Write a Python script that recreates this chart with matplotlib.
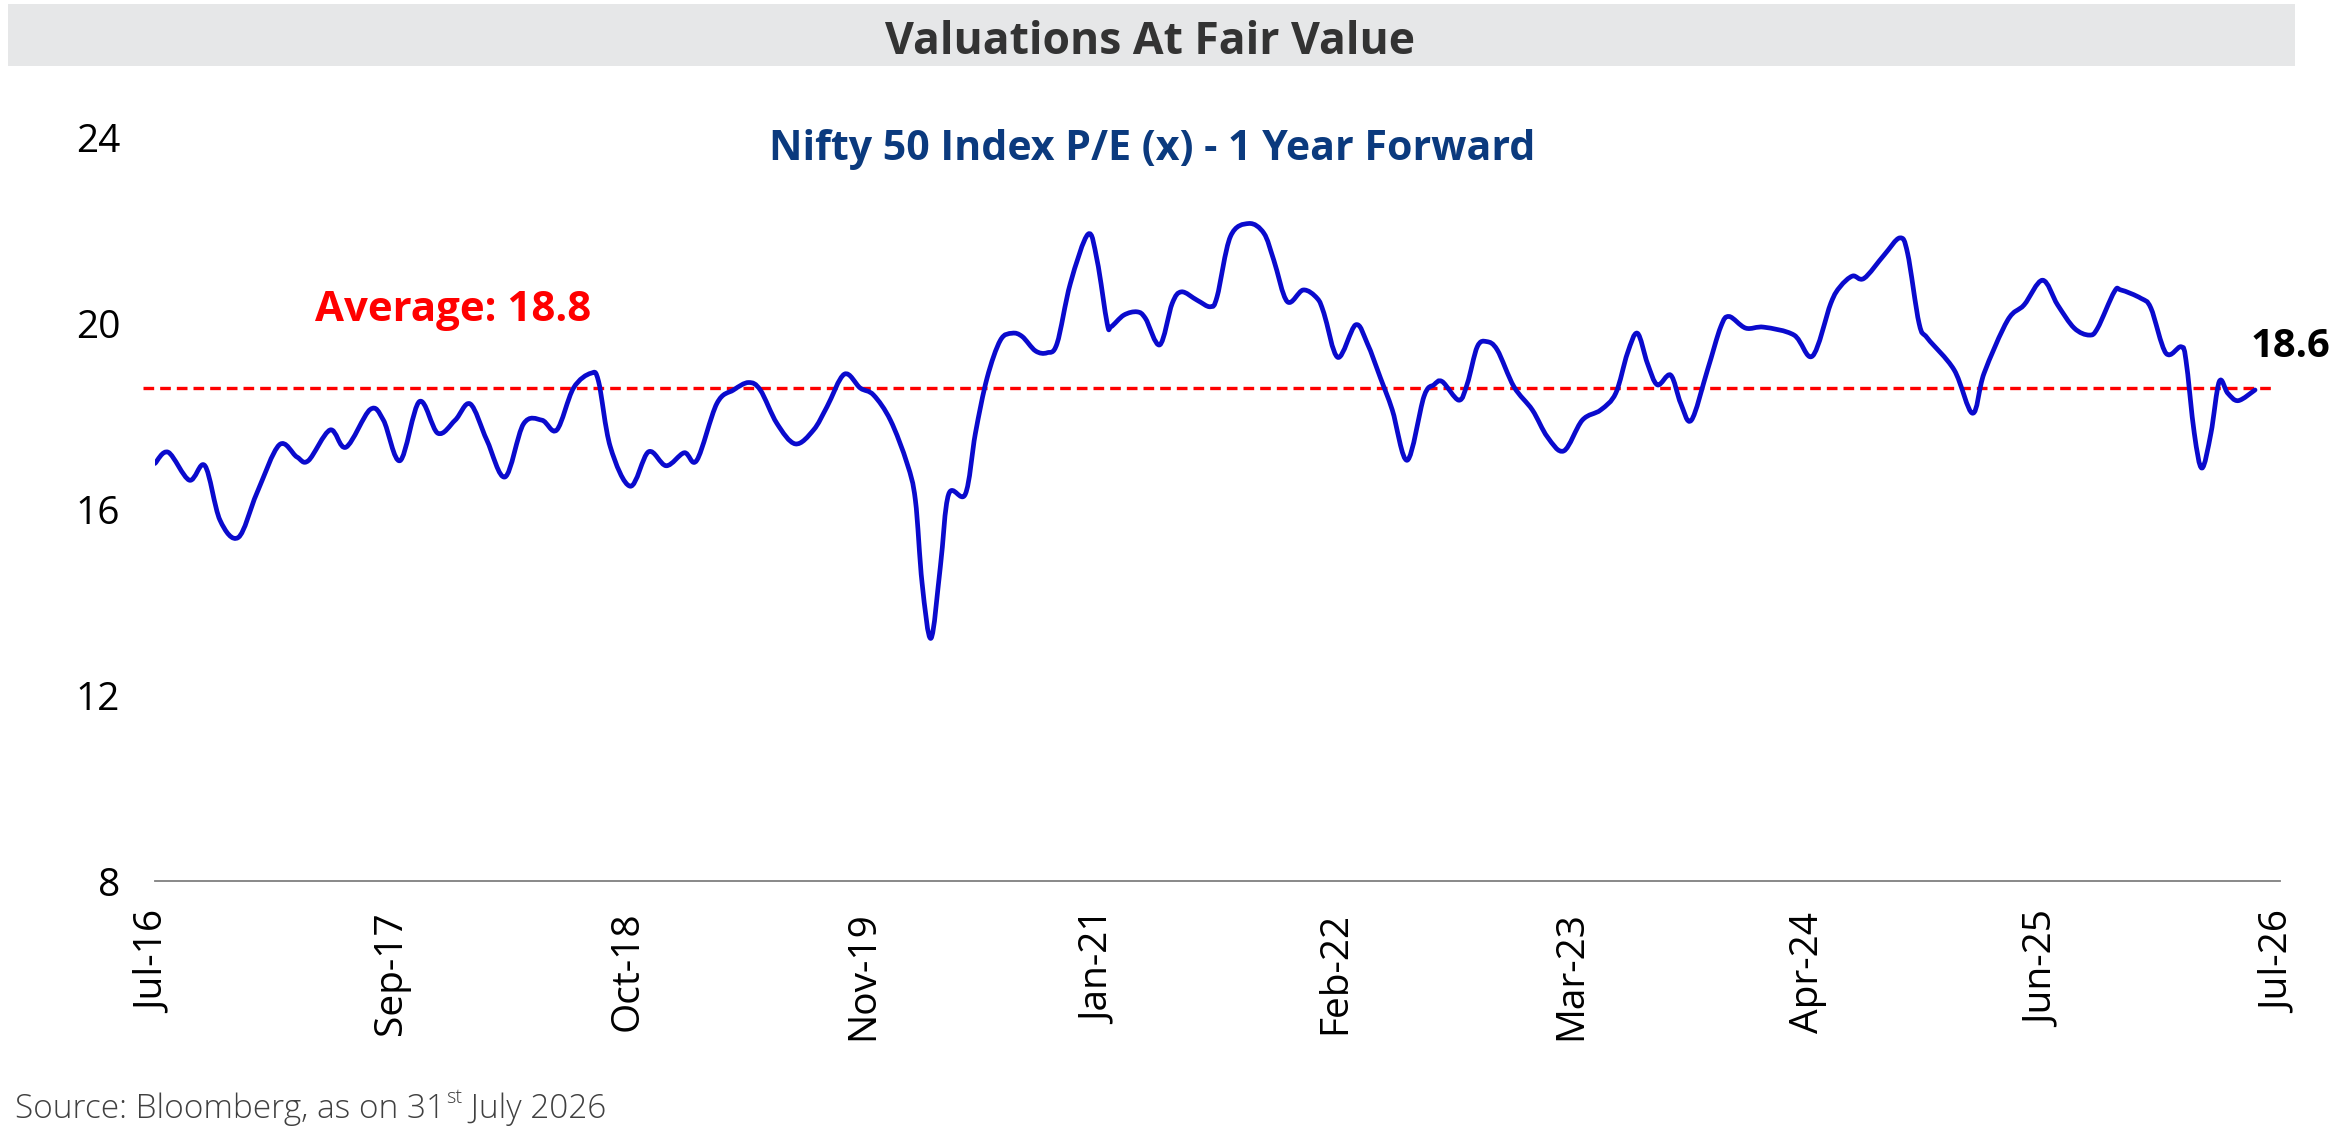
import numpy as np
import matplotlib
matplotlib.use("Agg")
import matplotlib.pyplot as plt
from matplotlib.path import Path
from matplotlib.patches import PathPatch, Rectangle

# ---------------- data ----------------
# x: months since Jul-2016, y: Nifty 50 1-yr forward P/E
months = [0.00, 0.75, 1.94, 2.82, 3.67, 4.71, 5.75, 7.02, 8.01, 8.66, 9.89, 10.79,
          12.15, 12.90, 13.84, 14.93, 15.97, 16.95, 17.80, 18.74, 19.77, 20.81, 21.85,
          22.69, 23.63, 24.62, 25.05, 25.71, 26.84, 27.87, 28.87, 29.89, 30.60, 31.73,
          32.67, 33.52, 34.18, 35.12, 36.16, 37.19, 37.95, 38.93, 39.83, 40.58, 41.53,
          42.47, 42.94, 43.32, 43.82, 44.35, 44.82, 45.76, 46.33, 46.99, 47.74, 48.40,
          48.97, 49.72, 50.38, 50.94, 51.69, 52.69, 53.20, 53.77, 53.99, 54.71, 55.46,
          55.93, 56.74, 57.44, 57.97, 58.85, 59.60, 59.98, 60.73, 61.77, 62.62, 63.18,
          63.94, 64.84, 65.63, 66.01, 66.80, 67.80, 68.46, 69.21, 69.87, 70.72, 71.66,
          72.22, 72.69, 73.63, 74.11, 74.67, 75.20, 75.80, 76.74, 77.78, 78.63, 79.56,
          80.60, 81.64, 82.49, 83.15, 83.71, 84.28, 84.84, 85.59, 86.16, 86.76, 87.67,
          88.42, 88.89, 89.83, 90.86, 92.56, 93.60, 94.63, 95.16, 95.86, 96.51, 97.64,
          98.53, 98.97, 99.62, 100.10, 101.60, 102.64, 103.29, 104.62, 105.55, 106.59,
          107.44, 108.38, 109.23, 109.70, 110.64, 111.02, 112.15, 112.71, 113.56, 114.41,
          114.69, 115.16, 115.59, 116.10, 116.57, 117.05, 117.64, 118.59]
pe = [16.98, 17.22, 16.62, 16.93, 15.76, 15.39, 16.34, 17.38, 17.12, 17.04, 17.70, 17.33,
      18.14, 17.91, 17.04, 18.31, 17.63, 17.91, 18.26, 17.48, 16.69, 17.83, 17.91,
      17.70, 18.60, 18.92, 18.74, 17.34, 16.49, 17.23, 16.93, 17.21, 17.05, 18.27,
      18.56, 18.72, 18.56, 17.84, 17.40, 17.70, 18.20, 18.90, 18.60, 18.45, 17.91,
      16.98, 16.19, 14.40, 13.22, 14.76, 16.32, 16.32, 17.63, 18.82, 19.63, 19.78,
      19.71, 19.40, 19.36, 19.56, 20.85, 21.91, 21.35, 19.99, 19.92, 20.17, 20.24,
      20.10, 19.53, 20.42, 20.67, 20.49, 20.35, 20.57, 21.86, 22.14, 21.93, 21.35,
      20.46, 20.71, 20.53, 20.21, 19.26, 19.96, 19.56, 18.81, 18.13, 17.05, 18.42,
      18.67, 18.74, 18.34, 18.70, 19.49, 19.60, 19.42, 18.63, 18.13, 17.55, 17.25,
      17.91, 18.13, 18.49, 19.35, 19.78, 19.13, 18.67, 18.88, 18.27, 17.91, 18.99,
      19.92, 20.14, 19.89, 19.91, 19.74, 19.29, 20.42, 20.78, 21.01, 20.96, 21.46,
      21.83, 21.50, 19.99, 19.67, 18.99, 18.06, 18.92, 20.06, 20.39, 20.92,
      20.39, 19.89, 19.74, 19.89, 20.67, 20.71, 20.53, 20.32, 19.35, 19.49,
      19.20, 17.63, 16.88, 17.63, 18.74, 18.49, 18.33, 18.56]

tick_labels = ["Jul-16", "Sep-17", "Oct-18", "Nov-19", "Jan-21", "Feb-22",
               "Mar-23", "Apr-24", "Jun-25", "Jul-26"]
y_ticks = [8, 12, 16, 20, 24]
avg_line = 18.6          # drawn level of the dashed average line
avg_span = [-0.7, 119.5]  # months covered by the dashed line
avg_label = "Average: 18.8"
last_label = "18.6"

title = "Valuations At Fair Value"
subtitle = "Nifty 50 Index P/E (x) - 1 Year Forward"

# ---------------- figure ----------------
W, H = 2345, 1142
FONT = "Open Sans"
plt.rcParams["font.family"] = [FONT, "DejaVu Sans"]
fig = plt.figure(figsize=(W / 100, H / 100), dpi=100)
fig.patch.set_facecolor("white")
renderer = fig.canvas.get_renderer()


def fit_width(t, target_px):
    w = t.get_window_extent(renderer).width
    t.set_fontsize(t.get_fontsize() * target_px / w)


# title banner
fig.add_artist(Rectangle((8 / W, 1 - 66 / H), 2287 / W, 62 / H,
                         transform=fig.transFigure, facecolor="#e6e7e8",
                         edgecolor="none", zorder=0))
t_title = fig.text(1150 / W, 1 - 54 / H, title, ha="center", va="baseline",
                   fontsize=30, fontweight="bold", color="#333333")
fit_width(t_title, 531)

t_sub = fig.text(1152 / W, 1 - 160 / H, subtitle, ha="center", va="baseline",
                 fontsize=26, fontweight="bold", color="#0b3a7e")
fit_width(t_sub, 767)

ax = fig.add_axes([155 / W, (H - 881) / H, (2280 - 155) / W, (881 - 137) / H])
ax.set_xlim(0, 120)
ax.set_ylim(8, 24)
ax.set_facecolor("none")

# smoothed line (Catmull-Rom -> cubic Bezier through the data points)
pts = np.column_stack([months, pe])
n = len(pts)
verts = [pts[0]]
codes = [Path.MOVETO]
for i in range(n - 1):
    p0 = pts[max(i - 1, 0)]
    p1 = pts[i]
    p2 = pts[i + 1]
    p3 = pts[min(i + 2, n - 1)]
    c1 = p1 + (p2 - p0) / 6.0
    c2 = p2 - (p3 - p1) / 6.0
    verts += [c1, c2, p2]
    codes += [Path.CURVE4] * 3
ax.add_patch(PathPatch(Path(verts, codes), facecolor="none", edgecolor="#0a0acd",
                       lw=3.4, capstyle="round", joinstyle="round", zorder=3))

ax.hlines(avg_line, avg_span[0], avg_span[1], colors="#ff0000",
          linestyles=(0, (3.2, 1.8)), lw=2.4, clip_on=False, zorder=2)

for s in ["left", "right", "top"]:
    ax.spines[s].set_visible(False)
ax.spines["bottom"].set_color("#7f7f7f")
ax.spines["bottom"].set_linewidth(1.3)

ax.set_yticks(y_ticks)
ax.set_yticklabels([str(v) for v in y_ticks])
ax.set_xticks(np.linspace(0, 120, len(tick_labels)))
ax.set_xticklabels(tick_labels, rotation=90)
ax.tick_params(axis="y", length=0, pad=25, labelsize=28, labelcolor="#000000")
ax.tick_params(axis="x", length=0, pad=22, labelsize=28, labelcolor="#000000")

t_avg = ax.text(16.86, 20.04, avg_label, ha="center", va="baseline",
                fontsize=26, fontweight="bold", color="#ff0000")
fit_width(t_avg, 277)
t_last = ax.text(120.6, 19.27, last_label, ha="center", va="baseline",
                 fontsize=26, fontweight="bold", color="#000000", clip_on=False)
fit_width(t_last, 80)

# source with superscript
src_size = 24
base_y = 1 - 1118 / H
s1 = fig.text(15 / W, base_y, "Source: Bloomberg, as on 31", ha="left", va="baseline",
              fontsize=src_size, fontweight="light", color="#404040")
x1 = s1.get_window_extent(renderer).x1
s2 = fig.text((x1 + 1) / W, base_y + (src_size * 0.45 * 100 / 72) / H, "st",
              ha="left", va="baseline", fontsize=src_size * 0.6,
              fontweight="light", color="#404040")
x2 = s2.get_window_extent(renderer).x1
s3 = fig.text(x2 / W, base_y, " July 2026", ha="left", va="baseline",
              fontsize=src_size, fontweight="light", color="#404040")

fig.savefig("out.png", dpi=100, facecolor="white")
